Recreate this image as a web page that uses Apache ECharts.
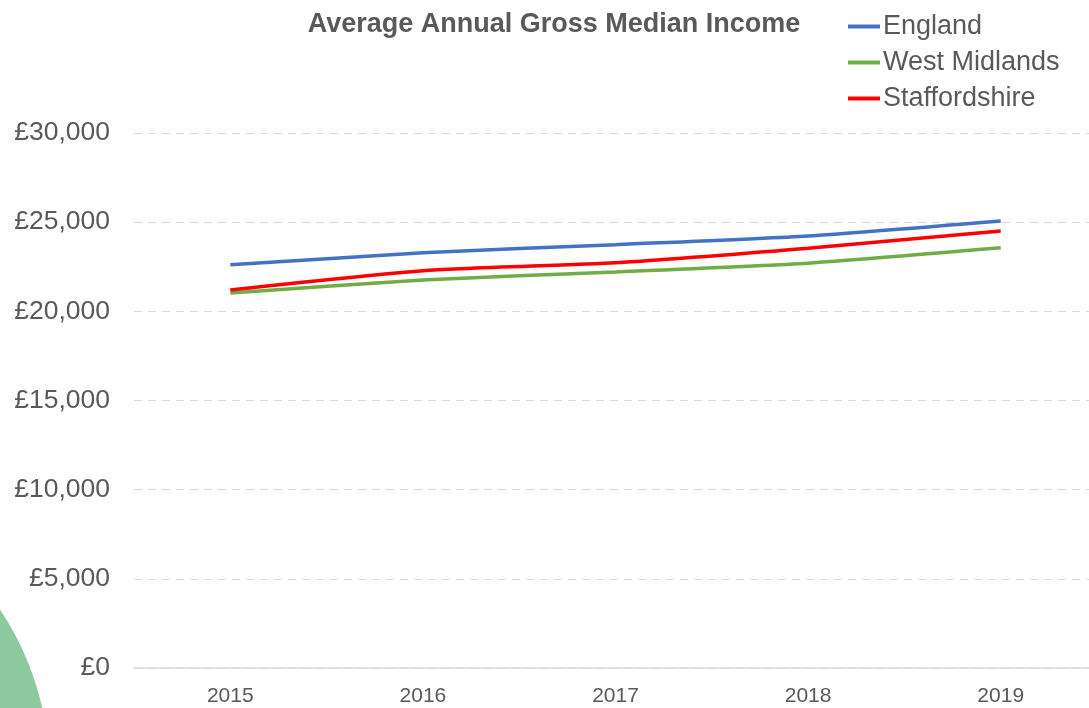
<!DOCTYPE html>
<html>
<head>
<meta charset="utf-8">
<script src="https://cdn.jsdelivr.net/npm/echarts@6/dist/echarts.min.js"></script>
<style>
html, body { margin: 0; padding: 0; background: #fff; overflow: hidden; }
#chart { width: 1097px; height: 708px; }
</style>
</head>
<body>
<div id="chart"></div>
<script>
var years = ['2015', '2016', '2017', '2018', '2019'];
var england = [22610, 23280, 23740, 24230, 25070];
var westMidlands = [21030, 21760, 22210, 22700, 23560];
var staffordshire = [21200, 22280, 22730, 23540, 24510];

var chart = echarts.init(document.getElementById('chart'));
var txt = '#595959';
var option = {
  backgroundColor: '#fff',
  animation: false,
  textStyle: { fontFamily: 'Liberation Sans, Arial, sans-serif' },
  title: {
    text: 'Average Annual Gross Median Income',
    left: 549, top: 6, textAlign: 'center',
    textStyle: { color: txt, fontSize: 27, fontWeight: 'bold' }
  },
  legend: {
    orient: 'vertical',
    left: 848, top: 13, padding: 0,
    itemWidth: 32, itemHeight: 4, itemGap: 9,
    icon: 'rect',
    textStyle: { color: txt, fontSize: 27, padding: [0, 0, 0, -2] },
    data: ['England', 'West Midlands', 'Staffordshire']
  },
  graphic: [{
    type: 'circle',
    shape: { cx: -238, cy: 770, r: 287 },
    style: { fill: '#8dca9f' },
    z: -1
  }],
  grid: { left: 134, right: 0, top: 133, bottom: 40, containLabel: false },
  xAxis: {
    type: 'category',
    data: years,
    boundaryGap: true,
    axisLine: { lineStyle: { color: '#d9d9d9', width: 1.5 } },
    axisTick: { show: false },
    axisLabel: { color: txt, fontSize: 21, margin: 18 }
  },
  yAxis: {
    type: 'value',
    min: 0, max: 30000, interval: 5000,
    axisLine: { show: false },
    axisTick: { show: false },
    axisLabel: {
      color: txt, fontSize: 26.5, margin: 24,
      formatter: function (v) { return '£' + v.toLocaleString('en-GB'); }
    },
    splitLine: { lineStyle: { color: '#d9d9d9', type: [8, 6], width: 1.2 } }
  },
  series: [
    { name: 'England', type: 'line', data: england, smooth: 0.2, showSymbol: false,
      color: '#4472c4', lineStyle: { width: 3.5, color: '#4472c4' } },
    { name: 'West Midlands', type: 'line', data: westMidlands, smooth: 0.2, showSymbol: false,
      color: '#70ad47', lineStyle: { width: 3.5, color: '#70ad47' } },
    { name: 'Staffordshire', type: 'line', data: staffordshire, smooth: 0.2, showSymbol: false,
      color: '#ff0000', lineStyle: { width: 3.5, color: '#ff0000' } }
  ]
};
chart.setOption(option);
</script>
</body>
</html>
